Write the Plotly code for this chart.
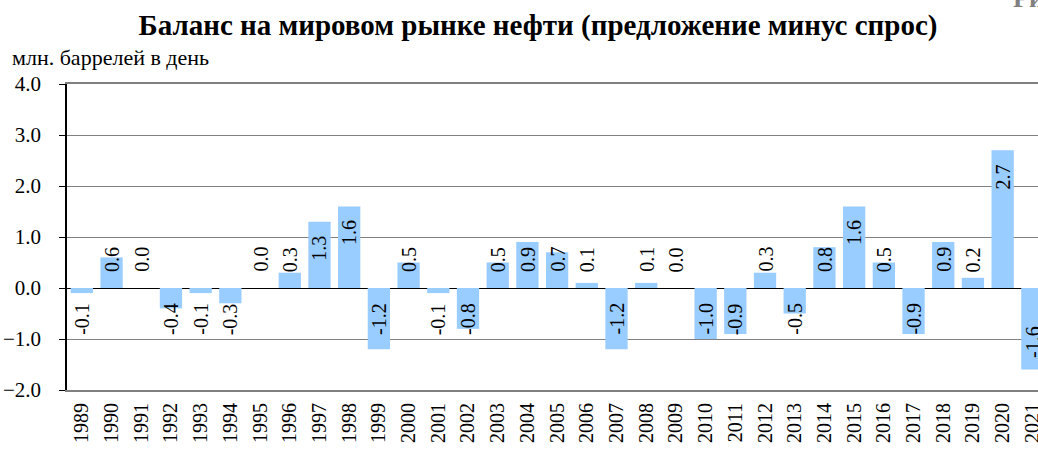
import plotly.graph_objects as go

years = [str(y) for y in range(1989, 2022)]
balance = [-0.1, 0.6, 0.0, -0.4, -0.1, -0.3, 0.0, 0.3, 1.3, 1.6, -1.2, 0.5, -0.1, -0.8,
           0.5, 0.9, 0.7, 0.1, -1.2, 0.1, 0.0, -1.0, -0.9, 0.3, -0.5, 0.8, 1.6, 0.5,
           -0.9, 0.9, 0.2, 2.7, -1.6]
title_text = "Баланс на мировом рынке нефти (предложение минус спрос)"
unit_text = "млн. баррелей в день"

FONT = "Liberation Serif, Times New Roman, serif"
W, H = 1038, 450
ML, MT, MB = 67, 84, 60

fig = go.Figure()
fig.add_trace(go.Bar(
    x=years, y=balance,
    marker=dict(color="#99CCFF", line=dict(width=0)),
    hoverinfo="x+y",
))

# value labels (rotated), Excel-like "inside end" with minimum distance from zero
annotations = []
for i, v in enumerate(balance):
    txt = f"{v:.1f}"
    if v >= 0:
        if v >= 1.2:
            a = dict(y=v, yanchor="top", yshift=-13)
        else:
            a = dict(y=0, yanchor="bottom", yshift=15)
    else:
        if v <= -1.3:
            a = dict(y=v, yanchor="bottom", yshift=11)
        else:
            a = dict(y=0, yanchor="top", yshift=-14)
    annotations.append(dict(
        x=i, xref="x", yref="y", text=txt, textangle=-90, showarrow=False,
        xanchor="center", font=dict(family=FONT, size=20, color="black"),
        borderpad=0, **a))

annotations.append(dict(
    text=unit_text, xref="paper", yref="paper",
    x=(10 - ML) / (W - ML), xanchor="left",
    y=(H - MB - 57) / (H - MT - MB), yanchor="middle",
    showarrow=False, font=dict(family=FONT, size=22, color="black")))
annotations.append(dict(
    text="<b>Рисунок</b>", xref="paper", yref="paper",
    x=(1011 - ML) / (W - ML), xanchor="left",
    y=(H - MB + 18) / (H - MT - MB), yanchor="top",
    showarrow=False, font=dict(family=FONT, size=26, color="#808080")))

fig.update_layout(
    width=W, height=H,
    margin=dict(l=ML, r=0, t=MT, b=MB, autoexpand=False),
    paper_bgcolor="white", plot_bgcolor="white",
    showlegend=False,
    bargap=0.25,
    font=dict(family=FONT, size=20, color="black"),
    title=dict(text="<b>" + title_text + "</b>", x=538 / W, xanchor="center",
               xref="container", yref="container", y=1 - 25 / H, yanchor="middle",
               font=dict(family=FONT, size=29, color="black")),
    xaxis=dict(
        type="category", range=[-0.5, 32.19], tickangle=-90,
        ticks="", showgrid=False, ticklabelstandoff=3, automargin=False,
        showline=True, mirror=True, linecolor="#808080", linewidth=2,
        tickfont=dict(family=FONT, size=20), fixedrange=True,
    ),
    xaxis2=dict(
        overlaying="x", anchor="free", position=1 / 3, type="linear",
        range=[-0.5, 32.19], tickmode="linear", tick0=0.5, dtick=1,
        ticks="outside", ticklen=6, tickcolor="black", tickwidth=1,
        showticklabels=False, showgrid=False, showline=True, automargin=False,
        linecolor="black", linewidth=1, zeroline=False,
    ),
    yaxis=dict(
        range=[-2, 4], dtick=1, tickformat=".1f", automargin=False,
        showgrid=True, gridcolor="#808080", gridwidth=1,
        zeroline=True, zerolinecolor="black", zerolinewidth=1,
        showline=True, linecolor="black", linewidth=1.5,
        ticks="outside", ticklen=6, tickcolor="black",
        ticklabelstandoff=14,
        tickfont=dict(family=FONT, size=21), fixedrange=True,
    ),
    annotations=annotations,
)

fig.write_html("out.html", config={"displayModeBar": False},
               post_script="document.body.style.margin='0';document.body.style.overflow='hidden';")
